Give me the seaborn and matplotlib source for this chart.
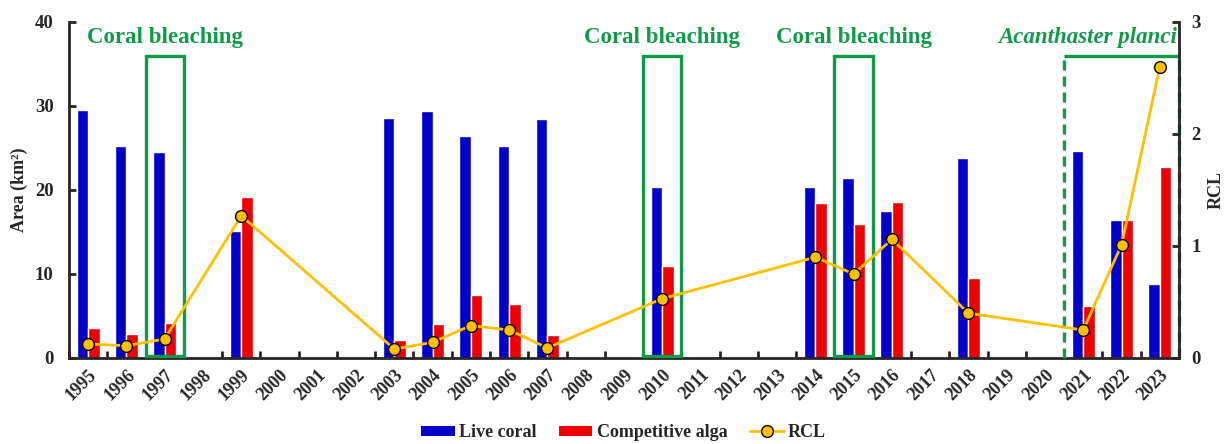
import numpy as np
import pandas as pd
import matplotlib
matplotlib.use("Agg")
import matplotlib.pyplot as plt
import seaborn as sns
from matplotlib.patches import Rectangle, Patch
from matplotlib.lines import Line2D

nan = np.nan
years = [str(y) for y in range(1995, 2024)]
live_coral = [29.5, 25.2, 24.5, nan, 15.1, nan, nan, nan, 28.6, 29.4, 26.4, 25.2, 28.5,
              nan, nan, 20.4, nan, nan, nan, 20.4, 21.4, 17.5, nan, 23.8, nan, nan,
              24.6, 16.4, 8.8]
competitive_alga = [3.6, 2.8, 4.2, nan, 19.2, nan, nan, nan, 2.2, 4.1, 7.5, 6.4, 2.7,
                    nan, nan, 10.9, nan, nan, nan, 18.5, 15.9, 18.6, nan, 9.5, nan, nan,
                    6.2, 16.4, 22.7]
rcl = [0.125, 0.11, 0.17, nan, 1.27, nan, nan, nan, 0.08, 0.14, 0.29, 0.25, 0.09,
       nan, nan, 0.53, nan, nan, nan, 0.90, 0.75, 1.06, nan, 0.40, nan, nan,
       0.25, 1.01, 2.6]
bleaching_years = ["1997", "2010", "2015"]
acanthaster_years = ["2021", "2022", "2023"]
left_ticks = [0, 10, 20, 30, 40]
right_ticks = [0, 1, 2, 3]

BLUE = "#0000C8"
RED = "#EE0000"
GOLD = "#FFC000"
GREEN = "#12994A"

sns.set_style("ticks")
plt.rcParams["font.family"] = ["Liberation Serif", "DejaVu Serif"]
plt.rcParams["font.weight"] = "bold"

df = pd.DataFrame({
    "year": years * 2,
    "value": live_coral + competitive_alga,
    "series": ["Live coral"] * len(years) + ["Competitive alga"] * len(years),
}).dropna()

fig = plt.figure(figsize=(12.3, 4.44), dpi=100)
ax = fig.add_axes([0.0561, 0.1937, 0.9024, 0.7568])

sns.barplot(data=df, x="year", y="value", hue="series", order=years,
            hue_order=["Live coral", "Competitive alga"], palette=[BLUE, RED],
            width=0.6, gap=0, saturation=1, errorbar=None, legend=False, ax=ax)

ax.set_xlim(-0.5, len(years) - 0.5)
ax.set_ylim(0, 40)
ax.set_yticks(left_ticks)
ax.set_yticklabels([str(t) for t in left_ticks], fontsize=13.5, fontweight="bold")
ax.set_xticks(range(len(years)))
ax.set_xticklabels(years, rotation=45, ha="right", rotation_mode="anchor",
                   fontsize=13, fontweight="bold")
ax.set_xticks(np.arange(-0.5, len(years), 1), minor=True)
ax.tick_params(axis="x", which="major", length=0, pad=6)
ax.tick_params(axis="x", which="minor", direction="in", length=5, width=2)
ax.tick_params(axis="y", direction="in", length=5, width=2, pad=11)
ax.set_xlabel("")
ax.set_ylabel("Area (km²)", fontsize=13, fontweight="bold", labelpad=5)
for s in ["top", "right"]:
    ax.spines[s].set_visible(False)
for s in ["left", "bottom"]:
    ax.spines[s].set_linewidth(2)

ax2 = ax.twinx()
pos = [i for i, v in enumerate(rcl) if not np.isnan(v)]
vals = [v for v in rcl if not np.isnan(v)]
ax2.plot(pos, vals, color=GOLD, linewidth=2, marker="o", markersize=8.5,
         markerfacecolor=GOLD, markeredgecolor="black", markeredgewidth=1, zorder=5)
ax2.set_ylim(0, 3)
ax2.set_yticks(right_ticks)
ax2.set_yticklabels([str(t) for t in right_ticks], fontsize=13.5, fontweight="bold")
ax2.tick_params(axis="y", direction="in", length=5, width=2, pad=9)
ax2.set_ylabel("RCL", fontsize=13, fontweight="bold", labelpad=5)
for s in ["top", "left", "bottom"]:
    ax2.spines[s].set_visible(False)
ax2.spines["right"].set_linewidth(2)

box_top = 36
for y in bleaching_years:
    i = years.index(y)
    ax.add_patch(Rectangle((i - 0.5, 0.25), 1, box_top - 0.25, fill=False,
                           edgecolor=GREEN, linewidth=2.4, zorder=6, clip_on=False))
    ax.text(i, 38.2, "Coral bleaching", color=GREEN, fontsize=16.5,
            fontweight="bold", ha="center", va="center")

a0 = years.index(acanthaster_years[0]) - 0.5
a1 = years.index(acanthaster_years[-1]) + 0.5
ax.plot([a0, a0], [0, box_top], color=GREEN, linewidth=2.4, linestyle=(0, (3, 1.8)),
        zorder=6, clip_on=False)
ax.plot([a1, a1], [0, box_top], color=GREEN, linewidth=2.4, linestyle=(0, (3, 1.8)),
        zorder=6, clip_on=False)
ax.plot([a0, a1], [box_top, box_top], color=GREEN, linewidth=2.4, zorder=6,
        clip_on=False, solid_capstyle="butt")
ax.text(a1 - 0.05, 38.2, "Acanthaster planci", color=GREEN, fontsize=16.5,
        fontweight="bold", fontstyle="italic", ha="right", va="center")

handles = [Patch(facecolor=BLUE, edgecolor="none", label="Live coral"),
           Patch(facecolor=RED, edgecolor="none", label="Competitive alga"),
           Line2D([0], [0], color=GOLD, linewidth=2, marker="o", markersize=8.5,
                  markerfacecolor=GOLD, markeredgecolor="black", label="RCL")]
fig.legend(handles=handles, loc="center", bbox_to_anchor=(0.507, 0.025), ncol=3,
           frameon=False, prop={"size": 13, "weight": "bold"},
           handlelength=1.85, handleheight=0.55, columnspacing=1.25, handletextpad=0.25)

fig.savefig("out.png", dpi=100)
